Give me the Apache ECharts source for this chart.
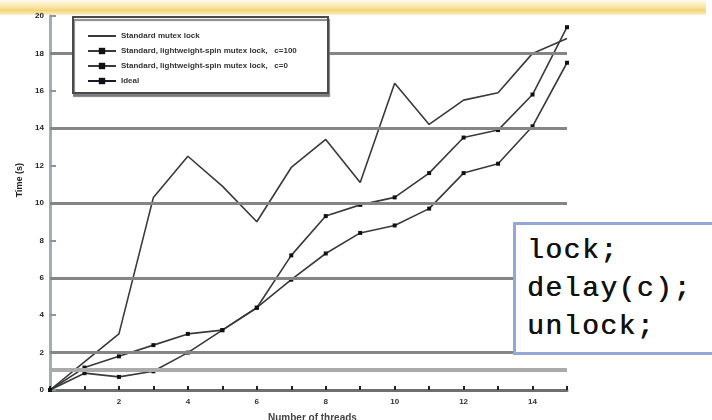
<!DOCTYPE html>
<html>
<head>
<meta charset="utf-8">
<script src="https://cdn.jsdelivr.net/npm/echarts@6/dist/echarts.min.js"></script>
<style>
  html, body { margin: 0; padding: 0; background: #ffffff; }
  #wrap { position: relative; width: 712px; height: 420px; overflow: hidden; filter: blur(0.6px); }
  #band { position: absolute; left: 0; top: 0; width: 706px; height: 15px;
          background: linear-gradient(to bottom, #fffaf0 0%, #f9e6a6 45%, #f4d57c 70%, #fcf1cf 100%); }
  #chart { position: absolute; left: 0; top: 0; width: 712px; height: 420px; }
  #code { position: absolute; left: 513px; top: 222px; width: 240px; height: 120px;
          border: 3px solid #94a8d6; background: #ffffff; box-sizing: content-box;
          font-family: "Liberation Mono", "DejaVu Sans Mono", monospace; font-weight: normal;
          font-size: 28px; letter-spacing: 1.5px; line-height: 38px; color: #111; padding: 7px 0 0 11px; white-space: pre;
          text-shadow: 0.5px 0 0 #111; }
</style>
</head>
<body>
<div id="wrap">
  <div id="band"></div>
  <div id="chart"></div>
  <div id="code">lock;
delay(c);
unlock;</div>
</div>
<script>
// ---- data ----
const threads = [0, 1, 2, 3, 4, 5, 6, 7, 8, 9, 10, 11, 12, 13, 14, 15];
const seriesNames = [
  "Standard mutex lock",
  "Standard, lightweight-spin mutex lock,   c=100",
  "Standard, lightweight-spin mutex lock,   c=0",
  "Ideal"
];
const lockA = [0, 1.5, 3.0, 10.3, 12.5, 10.9, 9.0, 11.9, 13.4, 11.1, 16.4, 14.2, 15.5, 15.9, 18.0, 18.8];
const lockB = [0, 1.2, 1.8, 2.4, 3.0, 3.2, 4.4, 7.2, 9.3, 9.9, 10.3, 11.6, 13.5, 13.9, 15.8, 19.4];
const lockC = [0, 0.9, 0.7, 1.0, 2.0, 3.2, 4.4, 5.9, 7.3, 8.4, 8.8, 9.7, 11.6, 12.1, 14.1, 17.5];
const idealX = [1, 5.4];
const idealY = [1.07, 1.07];
const idealLevel = 1.07;
const gridLevels = [2, 6, 10, 14, 18];
const yTicks = [0, 2, 4, 6, 8, 10, 12, 14, 16, 18, 20];
const xLabelled = [2, 4, 6, 8, 10, 12, 14];
const yTitle = "Time (s)";
const xTitle = "Number of threads";

const pair = (xs, ys) => xs.map((x, i) => [x, ys[i]]);

const chart = echarts.init(document.getElementById('chart'), null, { renderer: 'canvas' });
const lineCol = '#3a3a3a';
chart.setOption({
  animation: false,
  backgroundColor: 'transparent',
  grid: { left: 50, top: 16, width: 517, height: 374, containLabel: false },
  xAxis: {
    type: 'value', min: 0, max: 15, interval: 1,
    axisLine: { show: true, lineStyle: { color: '#6e6e6e', width: 3 } },
    axisTick: { show: true, inside: true, length: 4, lineStyle: { color: '#222', width: 2 } },
    splitLine: { show: false },
    axisLabel: {
      margin: 8, fontSize: 8, fontWeight: 'bold', color: '#333', fontFamily: 'Liberation Sans',
      formatter: v => (xLabelled.indexOf(v) >= 0 ? String(v) : '')
    }
  },
  yAxis: {
    type: 'value', min: yTicks[0], max: yTicks[yTicks.length - 1], interval: 2,
    axisLine: { show: true, lineStyle: { color: '#a3adb8', width: 3 } },
    axisTick: { show: true, inside: true, length: 6, lineStyle: { color: '#8a96a3', width: 2 } },
    splitLine: { show: false },
    axisLabel: { margin: 6, fontSize: 8, fontWeight: 'bold', color: '#222', fontFamily: 'Liberation Sans' }
  },
  legend: {
    orient: 'vertical', left: 82, top: 27, itemGap: 7, itemWidth: 28, itemHeight: 8, z: 20,
    data: [
      { name: seriesNames[0], itemStyle: { opacity: 0 } },
      { name: seriesNames[1] },
      { name: seriesNames[2] },
      { name: seriesNames[3], lineStyle: { type: 'solid', width: 2 } }
    ],
    textStyle: { fontSize: 8, fontWeight: 'bold', color: '#333', fontFamily: 'Liberation Sans' }
  },
  graphic: [
    { type: 'rect', z: 15, left: 72, top: 16,
      shape: { width: 255, height: 76 },
      style: { fill: '#ffffff', stroke: '#4a4a4a', lineWidth: 2,
               shadowColor: 'rgba(120,120,120,0.9)', shadowOffsetX: 1, shadowOffsetY: 3, shadowBlur: 1 } },
    { type: 'text', z: 15, left: 15, top: 163, rotation: Math.PI / 2,
      style: { text: yTitle, font: 'bold 9px "Liberation Sans"', fill: '#222' } },
    { type: 'text', z: 15, left: 268, top: 413,
      style: { text: xTitle, font: 'bold 10px "Liberation Sans"', fill: '#444' } }
  ],
  series: [
    {
      name: 'grid', type: 'line', data: [], z: 1, silent: true,
      markLine: {
        silent: true, symbol: ['none', 'none'], label: { show: false },
        lineStyle: { color: '#858585', width: 3, type: 'solid' },
        data: gridLevels.map(v => ({ yAxis: v })).concat([{ yAxis: idealLevel, lineStyle: { color: '#ababab', width: 4 } }])
      }
    },
    {
      name: seriesNames[0], type: 'line', z: 3, data: pair(threads, lockA),
      symbol: 'rect', showSymbol: false, lineStyle: { color: lineCol, width: 1.6 }, itemStyle: { color: lineCol }
    },
    {
      name: seriesNames[1], type: 'line', z: 3, data: pair(threads, lockB),
      symbol: 'rect', symbolSize: 4, lineStyle: { color: lineCol, width: 1.6 }, itemStyle: { color: '#111' }
    },
    {
      name: seriesNames[2], type: 'line', z: 3, data: pair(threads, lockC),
      symbol: 'rect', symbolSize: 4, lineStyle: { color: lineCol, width: 1.6 }, itemStyle: { color: '#111' }
    },
    {
      name: seriesNames[3], type: 'line', z: 2, data: pair(idealX, idealY),
      symbol: 'rect', showSymbol: false, lineStyle: { color: '#1a1a2a', width: 3.5, type: [5, 5] }, itemStyle: { color: '#111' }
    }
  ]
});
</script>
</body>
</html>
